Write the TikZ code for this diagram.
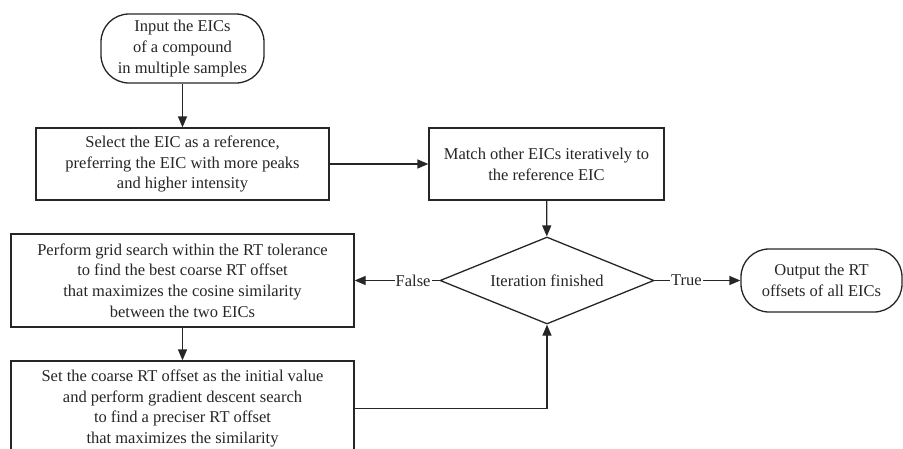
\documentclass[tikz,border=0pt]{standalone}
\usepackage{fontspec}
\setmainfont{Liberation Serif}
\usetikzlibrary{shapes.geometric,arrows.meta}
\begin{document}
\begin{tikzpicture}[x=1pt,y=-1pt,
  every node/.style={font=\fontsize{16.5}{20.8}\selectfont, align=center, inner sep=0pt, text=black!85},
  proc/.style={draw=black!85, rectangle, line width=1.3pt},
  term/.style={draw=black!85, rectangle, rounded corners=28pt, line width=1.3pt},
  decis/.style={draw=black!85, diamond, aspect=2.46, line width=1.3pt},
  conn/.style={draw=black!85, line width=1.3pt, -{Triangle[length=11pt,width=9pt]}},
  lbl/.style={fill=white, inner sep=1pt}]
\useasboundingbox (0,0) rectangle (903,448);
\clip (0,0) rectangle (903,448);
\node[term, minimum width=163pt, minimum height=69pt] (in) at (182.5,48.5)
  {Input the EICs\\of a compound\\in multiple samples};
\node[proc, minimum width=293pt, minimum height=72pt] (sel) at (182.5,164)
  {Select the EIC as a reference,\\preferring the EIC with more peaks\\and higher intensity};
\node[proc, minimum width=235pt, minimum height=72pt] (match) at (546.5,164)
  {Match other EICs iteratively to\\the reference EIC};
\node[decis, minimum width=214pt, minimum height=87pt] (dec) at (547,280.5)
  {Iteration finished};
\node[proc, minimum width=343pt, minimum height=93pt] (grid) at (182.5,280.5)
  {Perform grid search within the RT tolerance\\to find the best coarse RT offset\\that maximizes the cosine similarity\\between the two EICs};
\node[proc, minimum width=343pt, minimum height=95pt] (set) at (182.5,408.5)
  {Set the coarse RT offset as the initial value\\and perform gradient descent search\\to find a preciser RT offset\\that maximizes the similarity};
\node[term, minimum width=161pt, minimum height=63pt] (out) at (821.5,280.5)
  {Output the RT\\offsets of all EICs};
\draw[conn] (in) -- (sel);
\draw[conn] (sel) -- (match);
\draw[conn] (match) -- (dec);
\draw[conn] (dec.west) -- node[lbl, pos=0.31] {False} (grid.east);
\draw[conn] (dec.east) -- node[lbl, pos=0.37] {True} (out.west);
\draw[conn] (grid) -- (set);
\draw[conn] (set.east) -| (dec.south);
\end{tikzpicture}
\end{document}
